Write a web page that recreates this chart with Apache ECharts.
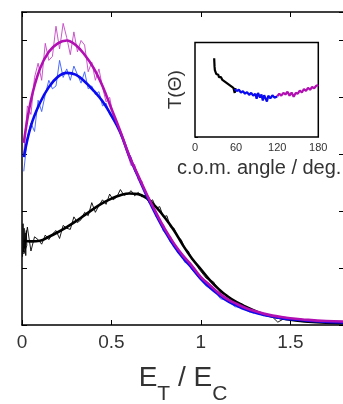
<!DOCTYPE html>
<html>
<head>
<meta charset="utf-8">
<script src="https://cdn.jsdelivr.net/npm/echarts@6/dist/echarts.min.js"></script>
<style>html,body{margin:0;padding:0;background:#fff}#c{width:343px;height:404px}</style>
</head>
<body>
<div id="c"></div>
<script>
// ---- main panel: smooth fits ----
var smoothX = [0.01,0.05,0.10,0.15,0.20,0.25,0.30,0.35,0.40,0.45,0.50,0.55,0.60,0.65,0.70,0.75,0.80,0.85,0.90,0.95,1.00,1.05,1.10,1.15,1.20,1.25,1.30,1.35,1.40,1.45,1.50,1.60,1.70,1.80];
var smoothMagenta = [3.2,3.95,4.5,4.8,4.95,5.0,4.92,4.75,4.52,4.2,3.8,3.4,2.97,2.62,2.28,1.97,1.68,1.43,1.22,1.04,0.84,0.70,0.56,0.45,0.37,0.30,0.245,0.20,0.165,0.14,0.12,0.09,0.07,0.06];
var smoothBlue = [2.95,3.5,3.9,4.18,4.36,4.43,4.4,4.28,4.12,3.93,3.68,3.38,2.96,2.6,2.25,1.93,1.64,1.39,1.18,1.0,0.81,0.66,0.53,0.42,0.34,0.27,0.22,0.18,0.15,0.12,0.10,0.075,0.055,0.045];
var smoothBlack = [1.48,1.47,1.48,1.55,1.63,1.72,1.82,1.93,2.04,2.14,2.22,2.28,2.31,2.3,2.22,2.07,1.88,1.66,1.4,1.17,0.98,0.79,0.63,0.5,0.4,0.32,0.25,0.19,0.15,0.12,0.095,0.06,0.04,0.03];

// ---- main panel: raw (noisy) data ----
var rawX = [0.01,0.03,0.05,0.07,0.09,0.11,0.13,0.15,0.17,0.19,0.21,0.23,0.25,0.27,0.29,0.31,0.33,0.35,0.37,0.39,0.41,0.43,0.45,0.47,0.49,0.51,0.53,0.55,0.57,0.59,0.61,0.63,0.65,0.67,0.69,0.71,0.73,0.75,0.77,0.79,0.81,0.83,0.85,0.87,0.89,0.91,0.93,0.95,0.97,0.99,1.03,1.07,1.11,1.15,1.19,1.23,1.27,1.31,1.35,1.39,1.43,1.47,1.51,1.55,1.59,1.63,1.67,1.71,1.75,1.79];
var rawMagenta = [3.0,3.85,3.7,4.35,4.6,4.3,4.95,4.65,4.72,5.25,4.85,5.3,5.05,4.75,5.15,4.8,5.0,4.92,4.45,4.62,4.3,4.5,4.18,3.92,4.0,3.68,3.52,3.36,3.25,3.0,2.8,2.82,2.55,2.53,2.3,2.25,2.03,2.0,1.8,1.77,1.58,1.56,1.38,1.36,1.22,1.2,1.06,1.05,0.93,0.9,0.73,0.66,0.5,0.46,0.36,0.34,0.26,0.25,0.19,0.18,0.14,0.14,0.11,0.11,0.09,0.09,0.07,0.07,0.06,0.06];
var rawBlue = [2.7,3.3,3.55,3.4,3.95,3.75,4.05,4.3,4.15,4.2,4.65,4.35,4.5,4.3,4.55,4.4,4.25,4.45,4.15,4.2,4.05,4.1,3.85,3.9,3.7,3.6,3.55,3.35,3.2,3.05,2.95,2.7,2.62,2.45,2.35,2.15,2.1,1.9,1.85,1.65,1.6,1.45,1.42,1.27,1.24,1.1,1.08,0.97,0.9,0.82,0.68,0.62,0.46,0.43,0.32,0.31,0.23,0.22,0.16,0.16,0.12,0.12,0.09,0.09,0.07,0.07,0.06,0.05,0.05,0.04];
var rawBlackHeadX = [0.003,0.006,0.009,0.012,0.015,0.018,0.021,0.024,0.027];
var rawBlackHead = [1.2,1.78,1.28,1.7,1.35,1.62,1.22,1.66,1.4];
var rawBlack = [1.25,1.72,1.3,1.55,1.5,1.42,1.58,1.5,1.6,1.66,1.52,1.75,1.7,1.68,1.9,1.8,1.85,1.98,1.92,2.15,1.98,2.1,2.2,2.12,2.3,2.2,2.25,2.38,2.28,2.3,2.36,2.27,2.33,2.25,2.28,2.15,2.2,2.05,2.08,1.9,1.92,1.72,1.7,1.55,1.5,1.35,1.3,1.15,1.1,0.98,0.82,0.76,0.57,0.52,0.38,0.37,0.26,0.25,0.17,0.17,0.05,0.12,0.08,0.08,0.06,0.05,0.05,0.04,0.03,0.03];

// ---- inset: T(Theta) vs c.o.m. angle ----
var insetBlackAngle = [28,28.5,29,30,31,32,33,34,35,36,37,38,40,42,44,46,48,50,52,54,56,57,58,59];
var insetBlackT = [2.0,1.8,1.7,1.68,1.6,1.62,1.55,1.58,1.52,1.56,1.5,1.52,1.45,1.47,1.4,1.42,1.35,1.37,1.3,1.33,1.25,1.28,1.12,1.25];
var insetBlueAngle = [58,61,64,67,70,73,76,79,82,85,88,90,92,95,97,99,101,103,105,107,110,113,116,118,120];
var insetBlueT = [1.22,1.17,1.2,1.13,1.16,1.1,1.14,1.07,1.12,1.05,1.1,0.97,1.12,1.0,1.08,0.93,1.06,0.98,0.9,1.05,0.98,1.06,1.0,1.05,1.03];
var insetMagentaAngle = [120,123,126,129,132,135,138,141,144,147,150,153,156,159,162,165,168,171,174,177,180];
var insetMagentaT = [1.03,1.1,1.05,1.12,1.08,1.15,1.05,1.13,1.02,1.12,1.1,1.18,1.13,1.22,1.17,1.25,1.2,1.27,1.24,1.3,1.32];

var mainXTicks = {min:0, max:1.8, interval:0.5};
var insetXTicks = {min:0, max:180, interval:60};

function pairs(xs, ys){ return xs.map(function(x,i){ return [x, ys[i]]; }); }

var FONT = 'Liberation Sans, Arial, Helvetica, sans-serif';
var TXT = '#333';
var MAG = '#b20fb2', MAG_RAW = '#c445c4';
var BLU = '#0a0af0', BLU_RAW = '#3a5cff';

var chart = echarts.init(document.getElementById('c'), null, {renderer:'canvas'});
chart.setOption({
  animation:false,
  backgroundColor:'#fff',
  textStyle:{fontFamily:FONT},
  grid:[
    {left:22, top:12, width:322, height:313, show:false, outerBoundsMode:'none', containLabel:false},
    {left:195, top:42.5, width:123.3, height:94.5, show:true, borderColor:'#000', borderWidth:1.5, backgroundColor:'#fff', z:10, outerBoundsMode:'none', containLabel:false}
  ],
  xAxis:[
    {type:'value', gridIndex:0, min:mainXTicks.min, max:mainXTicks.max, interval:mainXTicks.interval, position:'bottom',
     axisLine:{show:true, onZero:false, lineStyle:{color:'#000', width:1.5}},
     axisTick:{show:true, inside:true, length:5, lineStyle:{color:'#000', width:1}},
     axisLabel:{show:true, fontSize:19, color:TXT, margin:8, fontFamily:FONT, showMaxLabel:false},
     splitLine:{show:false},
     name:'{e|E}{s|T}{e| / E}{s|C}', nameLocation:'middle', nameGap:39,
     nameTextStyle:{color:TXT, fontFamily:FONT, rich:{
       e:{fontSize:28, lineHeight:28, verticalAlign:'top', color:TXT, fontFamily:FONT},
       s:{fontSize:21, lineHeight:21, verticalAlign:'top', padding:[20,0,0,0], color:TXT, fontFamily:FONT}
     }}},
    {type:'value', gridIndex:0, min:mainXTicks.min, max:mainXTicks.max, interval:mainXTicks.interval, position:'top',
     axisLine:{show:true, onZero:false, lineStyle:{color:'#000', width:1.5}},
     axisTick:{show:true, inside:true, length:5, lineStyle:{color:'#000', width:1}},
     axisLabel:{show:false}, splitLine:{show:false}},
    {type:'value', gridIndex:1, min:insetXTicks.min, max:insetXTicks.max, interval:insetXTicks.interval, position:'bottom',
     axisLine:{show:false}, axisTick:{show:false},
     axisLabel:{show:true, fontSize:11, color:TXT, margin:5, fontFamily:FONT},
     splitLine:{show:false},
     name:'c.o.m. angle / deg.', nameLocation:'middle', nameGap:21,
     nameTextStyle:{fontSize:20, color:TXT, fontFamily:FONT, padding:[0,0,0,5]}}
  ],
  yAxis:[
    {type:'value', gridIndex:0, min:0, max:5.5, interval:1, position:'left',
     axisLine:{show:true, onZero:false, lineStyle:{color:'#000', width:1.5}},
     axisTick:{show:true, inside:true, length:5, lineStyle:{color:'#000', width:1}},
     axisLabel:{show:false}, splitLine:{show:false}},
    {type:'value', gridIndex:0, min:0, max:5.5, interval:1, position:'right',
     axisLine:{show:true, onZero:false, lineStyle:{color:'#000', width:1.5}},
     axisTick:{show:true, inside:true, length:5, lineStyle:{color:'#000', width:1}},
     axisLabel:{show:false}, splitLine:{show:false}},
    {type:'value', gridIndex:1, min:0, max:2.4, interval:1, position:'left',
     axisLine:{show:false},
     axisTick:{show:true, inside:true, length:3, lineStyle:{color:'#000', width:1}},
     axisLabel:{show:false}, splitLine:{show:false},
     name:'T(Θ)', nameLocation:'middle', nameRotate:90, nameGap:10,
     nameTextStyle:{fontSize:19, color:TXT, fontFamily:FONT}}
  ],
  series:[
    {type:'line', xAxisIndex:0, yAxisIndex:0, data:pairs(rawBlackHeadX, rawBlackHead).concat(pairs(rawX, rawBlack)), showSymbol:false, lineStyle:{color:'#000', width:0.9}, z:2},
    {type:'line', xAxisIndex:0, yAxisIndex:0, data:pairs(rawX, rawBlue), showSymbol:false, lineStyle:{color:BLU_RAW, width:0.9}, z:2},
    {type:'line', xAxisIndex:0, yAxisIndex:0, data:pairs(rawX, rawMagenta), showSymbol:false, lineStyle:{color:MAG_RAW, width:0.9}, z:2},
    {type:'line', xAxisIndex:0, yAxisIndex:0, data:pairs(smoothX, smoothBlack), showSymbol:false, smooth:0.4, lineStyle:{color:'#000', width:2.6}, z:3},
    {type:'line', xAxisIndex:0, yAxisIndex:0, data:pairs(smoothX, smoothBlue), showSymbol:false, smooth:0.4, lineStyle:{color:BLU, width:2.6}, z:3},
    {type:'line', xAxisIndex:0, yAxisIndex:0, data:pairs(smoothX, smoothMagenta), showSymbol:false, smooth:0.4, lineStyle:{color:MAG, width:2.6}, z:3},
    {type:'line', xAxisIndex:2, yAxisIndex:2, data:pairs(insetBlackAngle, insetBlackT), showSymbol:false, lineStyle:{color:'#000', width:2.2}, z:11},
    {type:'line', xAxisIndex:2, yAxisIndex:2, data:pairs(insetBlueAngle, insetBlueT), showSymbol:false, lineStyle:{color:BLU, width:2.2}, z:11},
    {type:'line', xAxisIndex:2, yAxisIndex:2, data:pairs(insetMagentaAngle, insetMagentaT), showSymbol:false, lineStyle:{color:MAG, width:2.2}, z:11}
  ]
});
</script>
</body>
</html>
